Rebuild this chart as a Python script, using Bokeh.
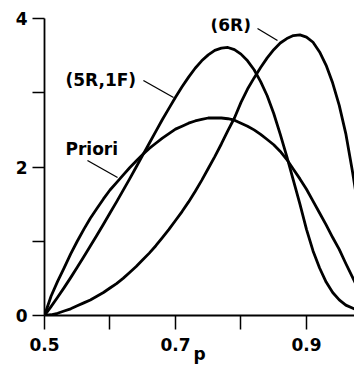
from bokeh.plotting import figure
from bokeh.models import Range1d, FixedTicker, Label
from bokeh.embed import file_html
from bokeh.resources import INLINE

# ---- data ----
p_vals = [0.50, 0.51, 0.52, 0.53, 0.54, 0.55, 0.56, 0.57, 0.58, 0.59,
          0.60, 0.61, 0.62, 0.63, 0.64, 0.65, 0.66, 0.67, 0.68, 0.69,
          0.70, 0.71, 0.72, 0.73, 0.74, 0.75, 0.76, 0.77, 0.78, 0.79,
          0.80, 0.81, 0.82, 0.83, 0.84, 0.85, 0.86, 0.87, 0.88, 0.89,
          0.90, 0.91, 0.92, 0.93, 0.94, 0.95, 0.96, 0.97, 0.98]

priori = [0.00, 0.26, 0.46, 0.64, 0.83, 1.00, 1.16, 1.31, 1.44, 1.57,
          1.69, 1.79, 1.89, 1.99, 2.08, 2.17, 2.25, 2.32, 2.39, 2.45,
          2.51, 2.55, 2.59, 2.62, 2.64, 2.66, 2.66, 2.66, 2.65, 2.63,
          2.59, 2.55, 2.50, 2.44, 2.37, 2.30, 2.21, 2.10, 1.97, 1.84,
          1.70, 1.54, 1.38, 1.22, 1.05, 0.89, 0.70, 0.52, 0.34]

r5_f1 = [0.00, 0.12, 0.245, 0.375, 0.51, 0.65, 0.79, 0.935, 1.08, 1.23,
         1.38, 1.53, 1.685, 1.84, 2.00, 2.16, 2.32, 2.48, 2.64, 2.79,
         2.94, 3.08, 3.21, 3.33, 3.43, 3.51, 3.57, 3.60, 3.61, 3.58,
         3.52, 3.43, 3.31, 3.15, 2.96, 2.72, 2.44, 2.14, 1.82, 1.50,
         1.16, 0.87, 0.64, 0.45, 0.31, 0.21, 0.14, 0.10, 0.06]

r6 = [0.00, 0.01, 0.03, 0.06, 0.09, 0.13, 0.17, 0.21, 0.26, 0.31,
      0.37, 0.43, 0.50, 0.58, 0.66, 0.75, 0.84, 0.94, 1.05, 1.16,
      1.28, 1.40, 1.53, 1.67, 1.82, 1.98, 2.14, 2.31, 2.49, 2.66,
      2.87, 3.05, 3.20, 3.34, 3.47, 3.58, 3.67, 3.73, 3.77, 3.78,
      3.75, 3.68, 3.55, 3.37, 3.13, 2.83, 2.45, 1.95, 1.40]

x_ticks = [0.5, 0.6, 0.7, 0.8, 0.9]
x_tick_labels = {0.5: "0.5", 0.6: "", 0.7: "0.7", 0.8: "", 0.9: "0.9"}
y_ticks = [0, 1, 2, 3, 4]
y_tick_labels = {0: "0", 1: "", 2: "2", 3: "", 4: "4"}

# curve labels: (text, x, y) and leader lines (x0, y0, x1, y1)
curve_labels = [("(5R,1F)", 0.532, 3.17), ("Priori", 0.532, 2.24), ("(6R)", 0.7534, 3.906)]
leaders = [(0.651, 3.165, 0.697, 2.936),
           (0.5656, 2.088, 0.6115, 1.859),
           (0.8252, 3.865, 0.8557, 3.704)]
x_axis_title = "p"

FONT = "DejaVu Sans"
FS = "17px"

fig = figure(width=354, height=366,
             x_range=Range1d(0.5, 0.9733), y_range=Range1d(0, 4),
             output_backend="svg", toolbar_location=None, tools="",
             min_border_left=44, min_border_right=0,
             min_border_top=18, min_border_bottom=51)
fig.outline_line_color = None
fig.grid.visible = False
fig.background_fill_color = "white"
fig.border_fill_color = "white"

for ys in (priori, r5_f1, r6):
    fig.line(p_vals, ys, line_color="black", line_width=2.8, line_join="round")

for (x0, y0, x1, y1) in leaders:
    fig.segment(x0=[x0], y0=[y0], x1=[x1], y1=[y1], line_color="black", line_width=1.3)

for (txt, lx, ly) in curve_labels:
    fig.add_layout(Label(x=lx, y=ly, text=txt, text_font=FONT, text_font_style="bold",
                         text_font_size=FS, text_color="black",
                         text_align="left", text_baseline="middle"))

xa = fig.xaxis[0]
xa.ticker = FixedTicker(ticks=x_ticks)
xa.major_label_overrides = x_tick_labels
xa.minor_tick_line_color = None
xa.major_tick_in = 0
xa.major_tick_out = 14
xa.major_label_standoff = 8
xa.axis_line_width = 1.8
xa.major_tick_line_width = 1.5
xa.major_label_text_font = FONT
xa.major_label_text_font_style = "bold"
xa.major_label_text_font_size = FS
xa.major_label_text_color = "black"
xa.axis_label = x_axis_title
xa.axis_label_standoff = -10
xa.axis_label_text_font = FONT
xa.axis_label_text_font_style = "bold"
xa.axis_label_text_font_size = FS
xa.axis_label_text_color = "black"

ya = fig.yaxis[0]
ya.ticker = FixedTicker(ticks=y_ticks)
ya.major_label_overrides = y_tick_labels
ya.minor_tick_line_color = None
ya.major_tick_in = 0
ya.major_tick_out = 12
ya.major_label_standoff = 5
ya.axis_line_width = 1.8
ya.major_tick_line_width = 1.5
ya.major_label_text_font = FONT
ya.major_label_text_font_style = "bold"
ya.major_label_text_font_size = FS
ya.major_label_text_color = "black"

open("out.html", "w").write(file_html(fig, INLINE))
